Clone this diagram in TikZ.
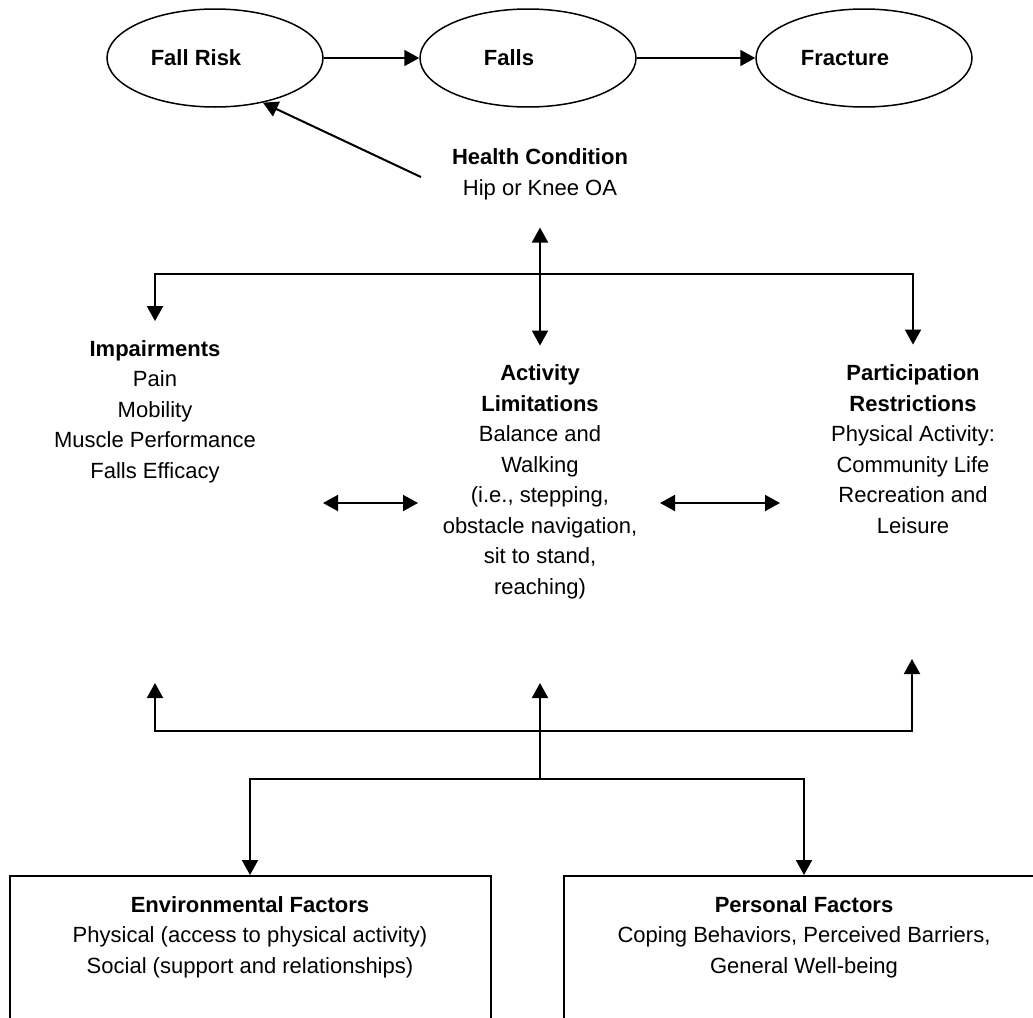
\documentclass[tikz,border=0pt]{standalone}
\usepackage{fontspec}
\setmainfont{Liberation Sans}
\usetikzlibrary{arrows.meta,shapes.geometric,positioning}

\begin{document}
\begin{tikzpicture}[x=0.5pt,y=-0.5pt,>={Triangle[length=7.5pt,width=8pt]},
                    line width=1pt,
                    every node/.style={font=\fontsize{11}{15.25}\selectfont,inner sep=0pt},
                    outcome/.style={ellipse,draw,line width=0.75pt,minimum width=108pt,minimum height=49pt},
                    icfblock/.style={align=center,anchor=base},
                    factorbox/.style={draw,minimum width=240.5pt,minimum height=100pt,anchor=north}]
    \useasboundingbox (0,0) rectangle (1033,1017);
    \clip (0,0) rectangle (1033,1017);
    \node [outcome] (fallrisk) at (215,58)  {\textbf{Fall Risk}\kern19pt};
    \node [outcome] (falls)    at (528,58)  {\textbf{Falls}\kern19pt};
    \node [outcome] (fracture) at (864,58)  {\textbf{Fracture}\kern19pt};
    \node [icfblock]  (health)   at (540,195) {\textbf{Health Condition}\\Hip or Knee OA};
    \node [icfblock]  (impair)   at (155,478) {\textbf{Impairments}\\Pain\\Mobility\\Muscle Performance\\Falls Efficacy};
    \node [icfblock]  (activity) at (540,594) {\textbf{Activity}\\\textbf{Limitations}\\Balance and\\Walking\\(i.e., stepping,\\obstacle navigation,\\sit to stand,\\reaching)};
    \node [icfblock]  (partic)   at (913,533) {\textbf{Participation}\\\textbf{Restrictions}\\Physical Activity:\\Community Life\\Recreation and\\Leisure};
    \node [factorbox] (envbox)  at (250,875) {};
    \node [factorbox] (persbox) at (804,875) {};
    \node [icfblock]  (envtext)  at (250,973) {\textbf{Environmental Factors}\\Physical (access to physical activity)\\Social (support and relationships)};
    \node [icfblock]  (perstext) at (804,973) {\textbf{Personal Factors}\\Coping Behaviors, Perceived Barriers,\\General Well-being};

    \coordinate (hcjoin) at (540,274);
    \coordinate (ia-w) at (323,503);
    \coordinate (ia-e) at (418,503);
    \coordinate (ap-w) at (660,503);
    \coordinate (ap-e) at (780,503);
    \coordinate (fcbar)  at (540,731);
    \coordinate (fcjoin) at (540,779);
    \coordinate (impup)  at (155,683);
    \coordinate (actup)  at (540,683);
    \coordinate (partup) at (912,659);

    \draw [->] (fallrisk) -- (falls);
    \draw [->] (falls) -- (fracture);
    \draw [->] ([xshift=-15pt,yshift=-1.5pt]health.west) -- (fallrisk.-43);
    \draw [<->,shorten <=13.5pt,shorten >=9pt] (health.south) -- (activity.north);
    \draw [->,shorten >=9pt]   (hcjoin) -| (impair.north);
    \draw [->,shorten >=9.5pt] (hcjoin) -| (partic.north);
    \draw [<->] (ia-w) -- (ia-e);
    \draw [<->] (ap-w) -- (ap-e);
    \draw [->] (fcbar) -| (impup);
    \draw [->] (fcbar) -| (partup);
    \draw [->] (fcjoin) -- (actup);
    \draw [->] (fcjoin) -| (envbox.north);
    \draw [->] (fcjoin) -| (persbox.north);
\end{tikzpicture}
\end{document}
